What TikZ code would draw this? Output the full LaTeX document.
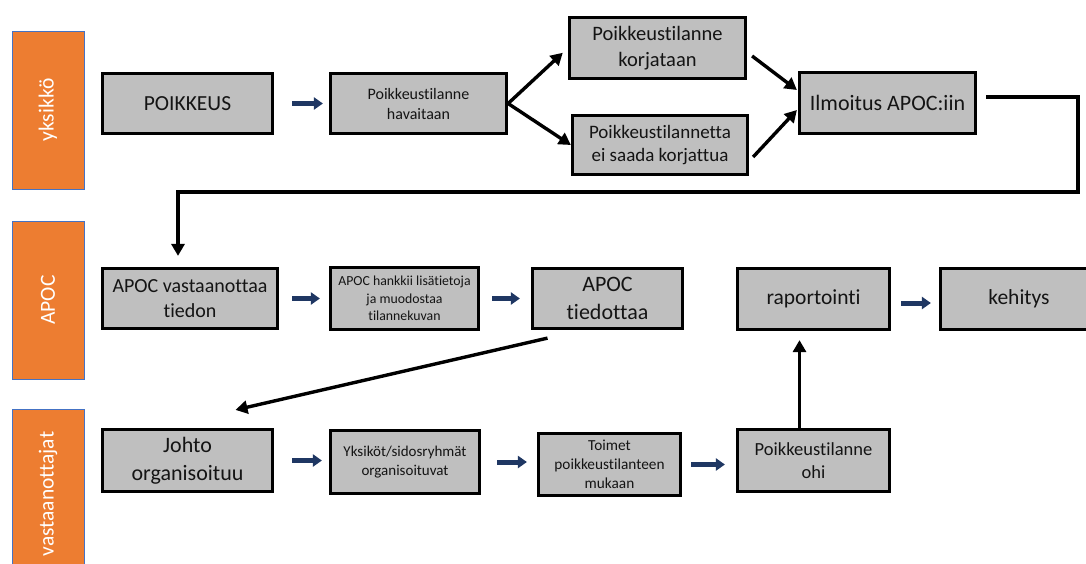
\documentclass[tikz,border=0pt]{standalone}
\usepackage{fontspec}
\setmainfont{Carlito}[Ligatures=NoCommon]
\usetikzlibrary{arrows.meta,calc}
\definecolor{lanefill}{HTML}{ED7D31}
\definecolor{laneedge}{HTML}{4472C4}
\definecolor{boxfill}{HTML}{BFBFBF}
\definecolor{boxtext}{HTML}{141414}
\definecolor{navyarrow}{HTML}{1F3763}
\newcommand{\fsz}[1]{\fontsize{#1pt}{\dimexpr #1pt*5/4\relax}\selectfont}
\begin{document}
\begin{tikzpicture}[x=1pt,y=-1pt,
  lane/.style={draw=laneedge, fill=lanefill, line width=1pt, inner sep=0pt,
    text=white, font=\fsz{21.5}, rotate=90},
  stepbox/.style={draw=black, fill=boxfill, line width=3.2pt, inner sep=0pt,
    align=center, text=boxtext},
  flow/.style={draw=navyarrow, line width=5pt,
    -{Triangle[length=9pt,width=12pt]}},
  link/.style={draw=black, line width=3.4pt,
    -{Triangle[length=12pt,width=13pt]}}
]
\useasboundingbox (0,0) rectangle (1086,563);
\clip (0,0) rectangle (1086,563);
\fill[white] (0,0) rectangle (1086,563);

% swimlane labels
\node[lane, minimum width=158pt, minimum height=72pt] (lyk) at (48,110) {yksikkö};
\node[lane, minimum width=158pt, minimum height=72pt] (lap) at (48,300) {APOC};
\node[lane, minimum width=170pt, minimum height=72pt] (lva) at (48,494) {vastaanottajat};

% first lane
\node[stepbox, minimum width=170pt, minimum height=60pt, font=\fsz{21.5}] (poik) at (187.5,103.5) {POIKKEUS};
\node[stepbox, minimum width=176pt, minimum height=60pt, font=\fsz{16}] (hav) at (418.5,103.5) {Poikkeustilanne\\havaitaan};
\node[stepbox, minimum width=176pt, minimum height=61pt, font=\fsz{20.5}] (korj) at (657.5,48) {Poikkeustilanne\\korjataan};
\node[stepbox, minimum width=175pt, minimum height=59pt, font=\fsz{19}] (eis) at (660,145) {Poikkeustilannetta\\ei saada korjattua};
\node[stepbox, minimum width=176pt, minimum height=61pt, font=\fsz{22}] (ilm) at (887.5,103) {Ilmoitus APOC:iin};

% second lane
\node[stepbox, minimum width=175pt, minimum height=60pt, font=\fsz{20}] (vast) at (190,298.5) {APOC vastaanottaa\\tiedon};
\node[stepbox, minimum width=148pt, minimum height=62pt, font=\fsz{13.8}] (hank) at (404.5,298.5) {APOC hankkii lisätietoja\\ja muodostaa\\tilannekuvan};
\node[stepbox, minimum width=150pt, minimum height=60pt, font=\fsz{22}] (tied) at (607.5,298.5) {APOC\\tiedottaa};
\node[stepbox, minimum width=152pt, minimum height=61pt, font=\fsz{21.5}] (rap) at (813.5,299) {raportointi};
\node[stepbox, minimum width=157pt, minimum height=61pt, font=\fsz{21.5}] (keh) at (1019,299) {kehitys};

% third lane
\node[stepbox, minimum width=170pt, minimum height=62pt, font=\fsz{22}] (joh) at (187.5,460.5) {Johto\\organisoituu};
\node[stepbox, minimum width=149pt, minimum height=63pt, font=\fsz{15}] (yks) at (405,462) {Yksiköt/sidosryhmät\\organisoituvat};
\node[stepbox, minimum width=142pt, minimum height=62pt, font=\fsz{15.3}] (toi) at (609.5,464.5) {Toimet\\poikkeustilanteen\\mukaan};
\node[stepbox, minimum width=152pt, minimum height=62pt, font=\fsz{18.5}] (ohi) at (813.5,460.5) {Poikkeustilanne\\ohi};

% short block arrows between neighbouring steps
\draw[flow, shorten <=18pt, shorten >=6pt] (poik.east) -- (poik.east -| hav.west);
\draw[flow, shorten <=13pt, shorten >=9pt] (vast.east) -- (vast.east -| hank.west);
\draw[flow, shorten <=12pt, shorten >=11pt] (hank.east) -- (hank.east -| tied.west);
\draw[flow, shorten <=10pt, shorten >=8pt] ($(rap.east)+(0,4)$) -- ($(rap.east -| keh.west)+(0,4)$);
\draw[flow, shorten <=18pt, shorten >=7pt] (joh.east) -- (joh.east -| yks.west);
\draw[flow, shorten <=16pt, shorten >=10pt] (yks.east) -- (yks.east -| toi.west);
\draw[flow, shorten <=9pt, shorten >=11pt] (toi.east) -- (toi.east -| ohi.west);

% branching after detection
\draw[link, shorten >=7pt] (hav.east) -- (korj.west);
\draw[link] (hav.east) -- (eis.west);
\draw[link] ($(korj.east)+(5,8)$) -- ($(ilm.west)+(-1,-13)$);
\draw[link] ($(eis.east)+(4,12)$) -- ($(ilm.west)+(-1,7)$);

% notification routed down to the APOC lane
\coordinate (c1) at ($(ilm.east)+(9,-6)$);
\coordinate (c2) at (1078,97);
\coordinate (c3) at (1078,192);
\coordinate (c4) at (178,192);
\coordinate (c5) at ($(vast.north)+(-12,-11)$);
\draw[link, line join=miter] (c1) -- (c2) -- (c3) -- (c4) -- (c5);

% APOC informs the receivers
\draw[link] ($(tied.south)+(-60,8)$) -- ($(joh.north)+(48,-18)$);

% end of the situation leads to reporting
\draw[link, shorten >=9pt] ($(ohi.north)+(-14,0)$) -- ($(rap.south)+(-14,0)$);
\end{tikzpicture}
\end{document}
